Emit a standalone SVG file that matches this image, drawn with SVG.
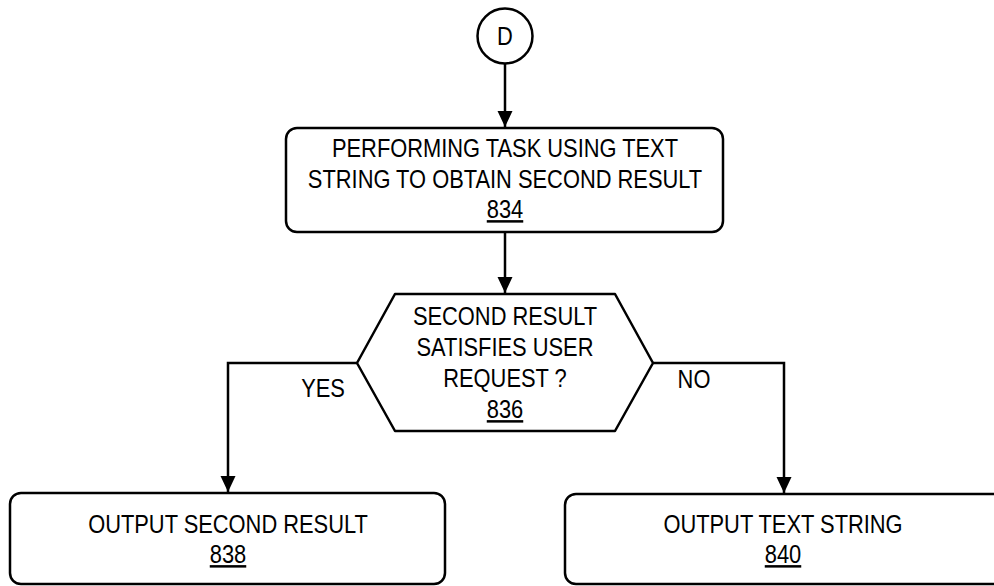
<svg xmlns="http://www.w3.org/2000/svg" width="994" height="586" viewBox="0 0 994 586">
  <style>
    .shape { fill: #ffffff; stroke: #000000; stroke-width: 2.5; stroke-linejoin: round; }
    .wire { fill: none; stroke: #000000; stroke-width: 2.5; }
    text { font-family: "Liberation Sans", Arial, sans-serif; font-size: 25px; fill: #000000; text-anchor: middle; }
    .ref { text-decoration: underline; }
  </style>
  <defs>
    <marker id="arrow" markerUnits="userSpaceOnUse" markerWidth="16" markerHeight="16" refX="16" refY="7.5" orient="auto">
      <path d="M0,0 L16,7.5 L0,15 Z" fill="#000000"/>
    </marker>
  </defs>

  <rect width="994" height="586" fill="#ffffff"/>

  <!-- connectors -->
  <g id="connectors">
    <line class="wire" x1="505" y1="64" x2="505" y2="127" marker-end="url(#arrow)"/>
    <line class="wire" x1="505" y1="233" x2="505" y2="293" marker-end="url(#arrow)"/>
    <polyline class="wire" points="357,363 228,363 228,492" marker-end="url(#arrow)"/>
    <polyline class="wire" points="653,363 784,363 784,493" marker-end="url(#arrow)"/>
    <g transform="translate(323,0) scale(0.875,1)">
      <text x="0" y="397">YES</text>
    </g>
    <g transform="translate(694,0) scale(0.875,1)">
      <text x="0" y="388">NO</text>
    </g>
  </g>

  <!-- off-page connector D -->
  <g id="connector-D">
    <circle class="shape" cx="505" cy="36" r="27.5"/>
    <g transform="translate(505,0) scale(0.875,1)">
      <text x="0" y="45">D</text>
    </g>
  </g>

  <!-- step 834 -->
  <g id="step-834">
    <rect class="shape" x="286" y="128" width="437" height="104" rx="11" ry="11"/>
    <g transform="translate(505,0) scale(0.875,1)">
      <text x="0" y="157">PERFORMING TASK USING TEXT</text>
      <text x="0" y="188">STRING TO OBTAIN SECOND RESULT</text>
      <text class="ref" x="0" y="218">834</text>
    </g>
  </g>

  <!-- decision 836 -->
  <g id="decision-836">
    <path class="shape" d="M357,363 L395,294 L615,294 L653,363 L615,431 L395,431 Z"/>
    <g transform="translate(505,0) scale(0.875,1)">
      <text x="0" y="325">SECOND RESULT</text>
      <text x="0" y="356">SATISFIES USER</text>
      <text x="0" y="387">REQUEST ?</text>
      <text class="ref" x="0" y="418">836</text>
    </g>
  </g>

  <!-- step 838 -->
  <g id="step-838">
    <rect class="shape" x="10" y="493" width="435" height="91" rx="11" ry="11"/>
    <g transform="translate(228,0) scale(0.875,1)">
      <text x="0" y="533">OUTPUT SECOND RESULT</text>
      <text class="ref" x="0" y="563">838</text>
    </g>
  </g>

  <!-- step 840 -->
  <g id="step-840">
    <rect class="shape" x="565" y="494" width="440" height="90" rx="11" ry="11"/>
    <g transform="translate(783,0) scale(0.875,1)">
      <text x="0" y="533">OUTPUT TEXT STRING</text>
      <text class="ref" x="0" y="563">840</text>
    </g>
  </g>
</svg>
